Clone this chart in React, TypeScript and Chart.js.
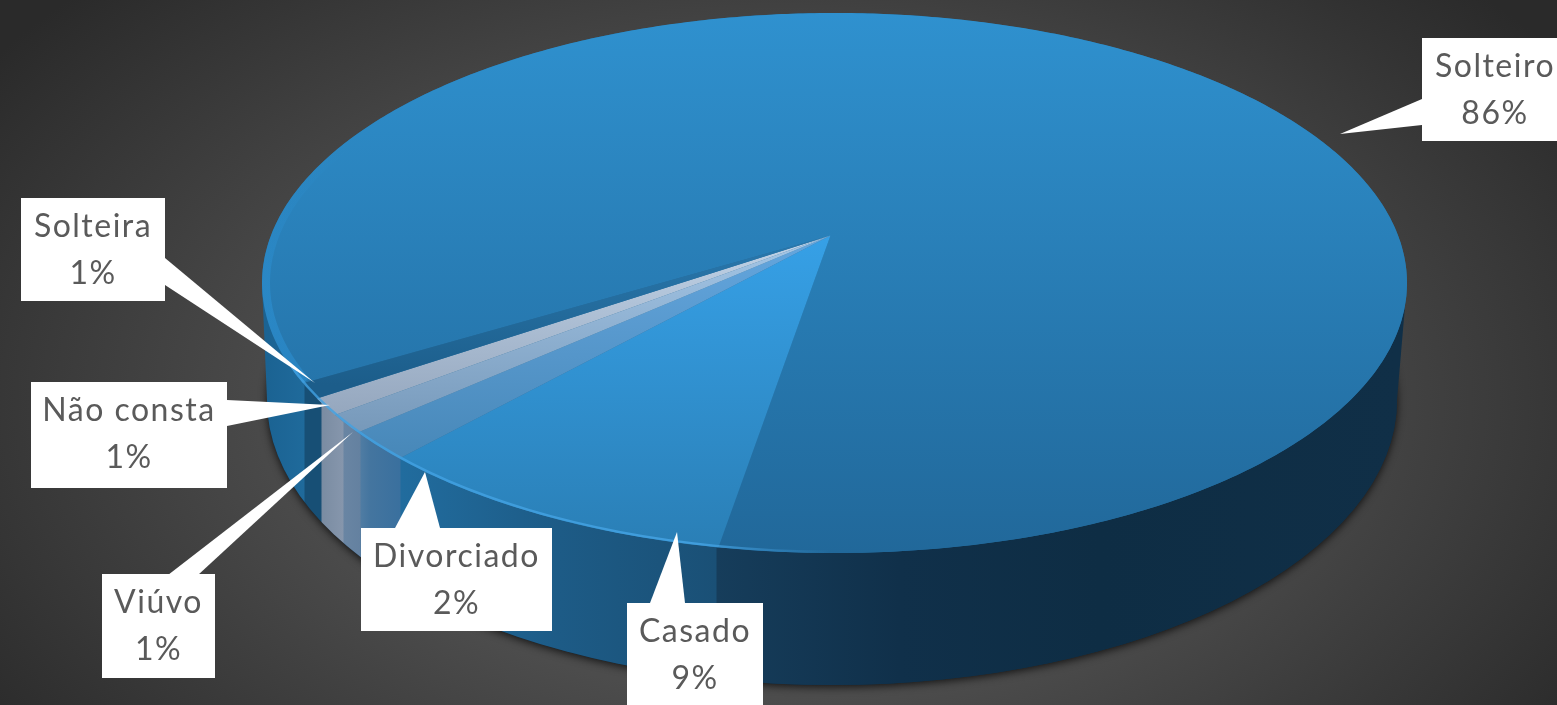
import React, { useEffect, useRef } from "react";
import { Chart, registerables } from "chart.js";

Chart.register(...registerables);

const categories = ["Solteiro", "Casado", "Divorciado", "Viúvo", "Não consta", "Solteira"];
const shares = [86.2, 9.0, 1.7, 1.1, 1.0, 0.9];

const W = 1557, H = 705;
const TOP = { cx: 834.5, cy: 283, a: 572.5, b: 270 };
const BOTTOM = { cx: 832, cy: 400, a: 565, b: 285 };
const TILT = -0.174; // perspective shift of the pie centre
const APEX = { x: 830.5, y: 235.5 };

const TOP_FILL: [number, number, string, string][] = [
  [13, 553, "#2f91cf", "#21689a"],
  [240, 545, "#36a0e6", "#2a7fb6"],
  [240, 470, "#64a6de", "#4686b6"],
  [240, 435, "#a4c6e6", "#7698b9"],
  [240, 410, "#c0d2e6", "#96a8bf"],
  [240, 385, "#2a78ad", "#1c5d8a"],
];
const SIDE_STOPS: [number, string][] = [
  [267, "#1b6393"], [304, "#1f6a9b"], [305, "#174f75"], [321, "#174f75"],
  [322, "#7a8ca2"], [343, "#8696ac"], [344, "#6985a3"], [360, "#6481a0"],
  [361, "#4f7ca3"], [370, "#44759f"], [400, "#3a709e"], [401, "#216c9e"],
  [560, "#1d5b86"], [716, "#1a5076"], [717, "#163d5b"], [900, "#10304a"],
  [1100, "#0e2d44"], [1397, "#102f47"],
];
// callout box [x0,y0,x1,y1], pointer tip [x,y], pointer base [x,y,x,y]
const CALLOUTS = [
  { box: [1422, 38, 1568, 141], tip: [1340, 134], base: [1422, 99, 1422, 125] },
  { box: [627, 603, 763, 705], tip: [677, 532], base: [650, 603, 685, 603] },
  { box: [361, 528, 552, 631], tip: [425, 472], base: [395, 528, 440, 528] },
  { box: [102, 574, 215, 678], tip: [353, 432], base: [168, 575, 198, 575] },
  { box: [31, 382, 227, 488], tip: [330, 405], base: [227, 400, 227, 426] },
  { box: [21, 198, 165, 301], tip: [315, 383], base: [165, 258, 165, 285] },
];

function unit(theta: number) {
  const X = Math.cos(theta), Y = Math.sin(theta);
  const d = 1 + TILT * Y;
  return { x: (X * Math.sqrt(1 - TILT * TILT)) / d, y: (Y + TILT) / d };
}
const onE = (e: typeof TOP, u: { x: number; y: number }) => ({ x: e.cx + e.a * u.x, y: e.cy + e.b * u.y });

function ellipsePath(ctx: CanvasRenderingContext2D, e: typeof TOP) {
  ctx.beginPath();
  ctx.ellipse(e.cx, e.cy, e.a, e.b, 0, 0, Math.PI * 2);
}

function drawBackground(ctx: CanvasRenderingContext2D) {
  ctx.save();
  ctx.translate(W / 2, 400);
  ctx.scale(1, 0.62);
  const g = ctx.createRadialGradient(0, 0, 0, 0, 0, 960);
  g.addColorStop(0, "#585858");
  g.addColorStop(0.5, "#4c4c4c");
  g.addColorStop(1, "#2a2a2a");
  ctx.fillStyle = g;
  ctx.fillRect(-W, -1200, W * 2, 2400);
  ctx.restore();
}

function drawSide(ctx: CanvasRenderingContext2D) {
  ctx.save();
  ctx.shadowColor = "rgba(0,0,0,0.75)";
  ctx.shadowBlur = 9;
  ctx.shadowOffsetY = 2;
  ctx.fillStyle = "#102f47";
  ellipsePath(ctx, BOTTOM);
  ctx.fill();
  ctx.restore();
  const g = ctx.createLinearGradient(BOTTOM.cx - BOTTOM.a, 0, BOTTOM.cx + BOTTOM.a, 0);
  const span = 2 * BOTTOM.a;
  SIDE_STOPS.forEach(([x, c]) => g.addColorStop(Math.min(1, Math.max(0, (x - (BOTTOM.cx - BOTTOM.a)) / span)), c));
  ctx.fillStyle = g;
  ellipsePath(ctx, BOTTOM);
  ctx.fill();
  ctx.beginPath();
  ctx.moveTo(TOP.cx - TOP.a, TOP.cy);
  ctx.lineTo(BOTTOM.cx - BOTTOM.a, BOTTOM.cy);
  ctx.lineTo(BOTTOM.cx + BOTTOM.a, BOTTOM.cy);
  ctx.lineTo(TOP.cx + TOP.a, TOP.cy);
  ctx.closePath();
  ctx.fill();
}

function drawTop(ctx: CanvasRenderingContext2D, arcs: any[]) {
  ellipsePath(ctx, TOP);
  ctx.fillStyle = "#226c9e";
  ctx.fill();
  arcs.forEach((arc, i) => {
    const [y0, y1, c0, c1] = TOP_FILL[i];
    const g = ctx.createLinearGradient(0, y0, 0, y1);
    g.addColorStop(0, c0);
    g.addColorStop(1, c1);
    ctx.beginPath();
    ctx.moveTo(APEX.x, APEX.y);
    const steps = Math.max(4, Math.ceil((arc.endAngle - arc.startAngle) * 90));
    for (let s = 0; s <= steps; s++) {
      const t = arc.startAngle + ((arc.endAngle - arc.startAngle) * s) / steps;
      const p = onE(TOP, unit(t));
      ctx.lineTo(p.x, p.y);
    }
    ctx.closePath();
    ctx.fillStyle = g;
    ctx.fill();
  });
  // bevel: soft lit band and thin bright line on the near-left edge
  ctx.save();
  ellipsePath(ctx, TOP);
  ctx.clip();
  const soft = ctx.createLinearGradient(0, 150, 0, 290);
  soft.addColorStop(0, "rgba(45,150,220,0)");
  soft.addColorStop(1, "rgba(45,150,220,0.45)");
  ctx.beginPath();
  ctx.ellipse(TOP.cx, TOP.cy, TOP.a - 4, TOP.b - 4, 0, Math.PI * 0.88, Math.PI * 1.2);
  ctx.strokeStyle = soft;
  ctx.lineWidth = 8;
  ctx.stroke();
  const rim = ctx.createLinearGradient(300, 0, 830, 0);
  rim.addColorStop(0, "rgba(64,160,225,0.8)");
  rim.addColorStop(0.75, "rgba(70,165,230,0.8)");
  rim.addColorStop(1, "rgba(70,165,230,0)");
  ctx.beginPath();
  ctx.ellipse(TOP.cx, TOP.cy, TOP.a - 1, TOP.b - 1, 0, Math.PI * 0.46, Math.PI * 0.9);
  ctx.strokeStyle = rim;
  ctx.lineWidth = 3;
  ctx.stroke();
  ctx.restore();
}

function drawCallouts(ctx: CanvasRenderingContext2D, values: number[]) {
  const total = values.reduce((s, v) => s + v, 0);
  CALLOUTS.forEach(({ box, tip, base }, i) => {
    const [x0, y0, x1, y1] = box;
    ctx.fillStyle = "#ffffff";
    ctx.beginPath();
    ctx.moveTo(tip[0], tip[1]);
    ctx.lineTo(base[0], base[1]);
    ctx.lineTo(base[2], base[3]);
    ctx.closePath();
    ctx.fill();
    ctx.fillRect(x0, y0, x1 - x0, y1 - y0);
    ctx.save();
    ctx.filter = "blur(0.5px)";
    ctx.fillStyle = "#5a5a5a";
    ctx.font = "32px Lato";
    (ctx as any).letterSpacing = "1.5px";
    ctx.textAlign = "center";
    ctx.textBaseline = "middle";
    const mx = (x0 + x1) / 2;
    ctx.fillText(categories[i], mx, y0 + 29);
    ctx.fillText(`${Math.round((values[i] / total) * 100)}%`, mx, y0 + 76);
    ctx.restore();
  });
}

const pie3d = {
  id: "pie3d",
  beforeDatasetsDraw(chart: any) {
    const ctx = chart.ctx as CanvasRenderingContext2D;
    const arcs = chart.getDatasetMeta(0).data;
    drawBackground(ctx);
    drawSide(ctx);
    drawTop(ctx, arcs);
    drawCallouts(ctx, chart.data.datasets[0].data);
    return false;
  },
};

export default function App() {
  const ref = useRef<HTMLCanvasElement>(null);
  useEffect(() => {
    const chart = new Chart(ref.current!, {
      type: "pie",
      data: {
        labels: categories,
        datasets: [{ data: shares, backgroundColor: TOP_FILL.map((f) => f[2]), borderWidth: 0 }],
      },
      options: {
        animation: false,
        responsive: false,
        rotation: 239.2,
        layout: { padding: 0 },
        plugins: { legend: { display: false }, tooltip: { enabled: false } },
      },
      plugins: [pie3d],
    } as any);
    return () => chart.destroy();
  }, []);
  return (
    <canvas
      ref={ref}
      width={W}
      height={H}
      style={{ position: "fixed", left: 0, top: 0, width: W, height: H, display: "block" }}
    />
  );
}
